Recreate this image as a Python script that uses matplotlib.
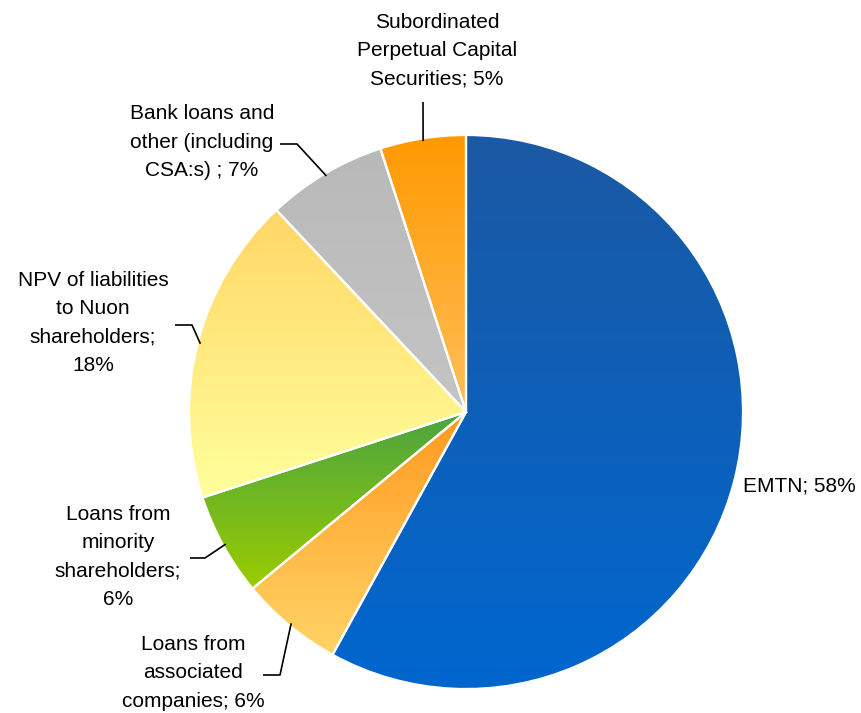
import numpy as np
import matplotlib
matplotlib.use("Agg")
import matplotlib.pyplot as plt
from matplotlib.colors import to_rgb

# Debt portfolio composition (%)
categories = [
    "EMTN",
    "Loans from associated companies",
    "Loans from minority shareholders",
    "NPV of liabilities to Nuon shareholders",
    "Bank loans and other (including CSA:s)",
    "Subordinated Perpetual Capital Securities",
]
shares = [58, 6, 6, 18, 7, 5]
label_texts = [
    "EMTN; 58%",
    "Loans from\nassociated\ncompanies; 6%",
    "Loans from\nminority\nshareholders;\n6%",
    "NPV of liabilities\nto Nuon\nshareholders;\n18%",
    "Bank loans and\nother (including\nCSA:s) ; 7%",
    "Subordinated\nPerpetual Capital\nSecurities; 5%",
]
# top colour, bottom colour of each slice's vertical gradient
gradients = [
    ("#1b59a3", "#0067cf"),
    ("#ff9a20", "#ffd466"),
    ("#4ba441", "#9acc00"),
    ("#ffd766", "#ffff9c"),
    ("#b9b9b9", "#c4c4c4"),
    ("#ff9900", "#ffbf5a"),
]

W, H = 861, 713
fig = plt.figure(figsize=(W / 100, H / 100), dpi=100)
ax = fig.add_axes([0, 0, 1, 1])
plt.rcParams["font.family"] = ["Liberation Sans", "DejaVu Sans"]

cx, cy, R = 466, H - 412, 277
wedges, _ = ax.pie(shares, startangle=90, counterclock=False,
                   center=(cx, cy), radius=R,
                   wedgeprops=dict(edgecolor="white", linewidth=1.6))

for w, (ctop, cbot) in zip(wedges, gradients):
    ext = w.get_path().get_extents()
    n = 256
    t = np.linspace(0, 1, n)[:, None]
    top, bot = np.array(to_rgb(ctop)), np.array(to_rgb(cbot))
    grad = bot + (top - bot) * t          # row 0 = bottom
    img = np.repeat(grad[:, None, :], 2, axis=1)
    im = ax.imshow(img, extent=(ext.x0, ext.x1, ext.y0, ext.y1),
                   origin="lower", aspect="auto", interpolation="bilinear",
                   zorder=1)
    im.set_clip_path(w)
    w.set_facecolor("none")
    w.set_zorder(2)

# label text placement (pixel coordinates, y measured from the top)
text_pos = [(743, 486), (193, 673), (118, 557), (93, 323), (202, 142), (437, 51)]
text_ha = ["left", "center", "center", "center", "center", "center"]
# leader polyline start points near the text (None = no leader)
leader_start = [None, [(263, 675), (280, 675)], [(190, 558), (205, 558)],
                [(175, 325), (192, 325)], [(280, 144), (297, 144)],
                [(423, 102)]]

fs = 15
cum = np.cumsum([0] + shares[:-1])
for i, lab in enumerate(label_texts):
    x, y = text_pos[i]
    ax.text(x, H - y, lab, ha=text_ha[i], va="center", fontsize=fs,
            color="black", linespacing=1.63, zorder=4)
    if leader_start[i] is None:
        continue
    mid = 90 - (cum[i] + shares[i] / 2) * 3.6
    ex = cx + R * 0.99 * np.cos(np.radians(mid))
    ey = cy + R * 0.99 * np.sin(np.radians(mid))
    pts = [(px, H - py) for px, py in leader_start[i]] + [(ex, ey)]
    xs, ys = zip(*pts)
    ax.plot(xs, ys, color="black", lw=1.2, zorder=3, solid_capstyle="butt")

ax.set_xlim(0, W)
ax.set_ylim(0, H)
ax.set_aspect("equal")
ax.axis("off")
fig.savefig("out.png", dpi=100, facecolor="white")
